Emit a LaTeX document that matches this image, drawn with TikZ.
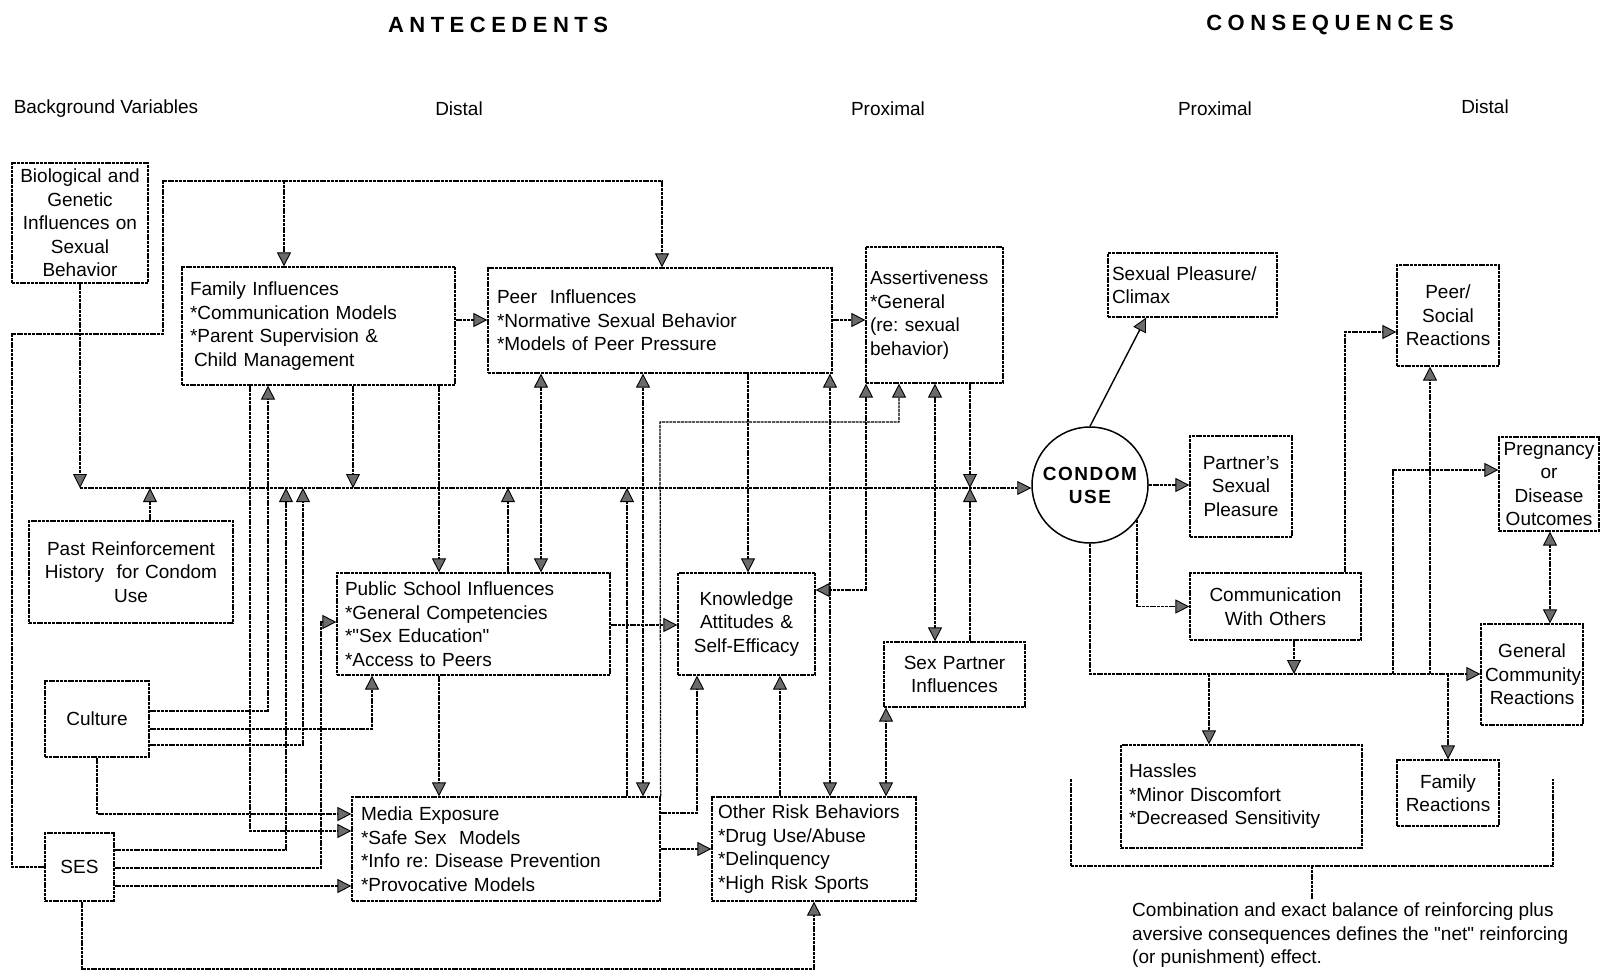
\documentclass[tikz,border=0pt]{standalone}
\usepackage{fontspec}
\setmainfont{Liberation Sans}
\newfontfamily\trackfont[LetterSpace=25]{Liberation Sans}
\newfontfamily\condomfont[LetterSpace=8]{Liberation Sans}
\usetikzlibrary{arrows.meta,calc}
\frenchspacing
\begin{document}
\begin{tikzpicture}[x=1pt,y=-1pt,
  every node/.style={font=\fontsize{19}{23.5}\selectfont},
  box/.style={draw, line width=1.25pt, dash pattern=on 3pt off 0.8pt, inner xsep=8pt, inner ysep=0pt},
  tbox/.style={box, inner xsep=4pt},
  conn/.style={draw, line width=1.25pt, dash pattern=on 3pt off 0.8pt},
  >={Triangle[length=14pt,width=14pt,fill=black!58,line width=0.9pt]},
  lbl/.style={inner sep=0pt}
]
\useasboundingbox (0,0) rectangle (1602,977);

% titles and column headers
\node[lbl,font=\trackfont\bfseries\fontsize{22}{26}\selectfont] (tA) at (498,25) {ANTECEDENTS};
\node[lbl,font=\trackfont\bfseries\fontsize{22}{26}\selectfont] (tC) at (1330,25) {CONSEQUENCES};
\node[lbl] (hBG) at (106,109) {Background Variables};
\node[lbl] (hD1) at (459,109) {Distal};
\node[lbl] (hP1) at (888,109) {Proximal};
\node[lbl] (hP2) at (1215,109) {Proximal};
\node[lbl] (hD2) at (1485,107) {Distal};

% antecedent boxes
\node[box, minimum width=136pt, minimum height=120pt, text width=120pt, align=center] (bio) at (80,223)
  {Biological and\\Genetic\\Influences on\\Sexual\\Behavior};
\node[box, minimum width=273pt, minimum height=118pt, text width=257pt, align=left] (family) at (318.5,326)
  {Family Influences\\{}*Communication Models\\{}*Parent Supervision \&\\\hspace*{4pt}Child Management};
\node[box, minimum width=344pt, minimum height=105pt, text width=326pt, align=left, inner xsep=9pt] (peer) at (660,320.5)
  {Peer~ Influences\\{}*Normative Sexual Behavior\\{}*Models of Peer Pressure};
\node[box, minimum width=137pt, minimum height=136pt, text width=129pt, align=left, inner xsep=4pt] (assert) at (934.5,315)
  {Assertiveness\\{}*General\\(re: sexual\\behavior)};
\node[box, minimum width=204pt, minimum height=102pt, text width=188pt, align=center] (past) at (131,572)
  {Past Reinforcement\\History~ for Condom\\Use};
\node[box, minimum width=273pt, minimum height=102pt, text width=257pt, align=left] (public) at (473.5,624)
  {Public School Influences\\{}*General Competencies\\{}*\textquotedbl Sex Education\textquotedbl\\{}*Access to Peers};
\node[box, minimum width=137pt, minimum height=102pt, text width=121pt, align=center] (knowledge) at (746.5,624)
  {Knowledge\\Attitudes \&\\Self-Efficacy};
\node[box, minimum width=141pt, minimum height=65pt, text width=125pt, align=center] (sexpartner) at (954.5,674.5)
  {Sex Partner\\Influences};
\node[box, minimum width=104pt, minimum height=76pt, text width=88pt, align=center] (culture) at (97,719)
  {Culture};
\node[box, minimum width=69pt, minimum height=68pt, text width=53pt, align=center] (ses) at (79.5,867)
  {SES};
\node[box, minimum width=308pt, minimum height=104pt, text width=290pt, align=left, inner xsep=9pt] (media) at (506,849)
  {Media Exposure\\{}*Safe Sex~ Models\\{}*Info re: Disease Prevention\\{}*Provocative Models};
\node[box, minimum width=204pt, minimum height=104pt, text width=192pt, align=left, inner xsep=6pt] (other) at (814,849)
  {Other Risk Behaviors\\{}*Drug Use/Abuse\\{}*Delinquency\\{}*High Risk Sports};

% central node
\node[draw, circle, line width=1.5pt, minimum size=116pt, inner sep=0pt, align=center,
      font=\condomfont\bfseries\fontsize{19}{23}\selectfont] (condom) at (1090,485) {CONDOM\\USE};

% consequence boxes
\node[tbox, minimum width=169pt, minimum height=64pt, text width=161pt, align=left] (sexpleasure) at (1192.5,285)
  {Sexual Pleasure/\\Climax};
\node[tbox, minimum width=102pt, minimum height=101pt, text width=94pt, align=center] (partners) at (1241,486.5)
  {Partner's\\Sexual\\Pleasure};
\node[tbox, minimum width=171pt, minimum height=67pt, text width=163pt, align=center] (comm) at (1275.5,606.5)
  {Communication\\With Others};
\node[tbox, minimum width=102pt, minimum height=101pt, text width=94pt, align=center] (peersocial) at (1448,315.5)
  {Peer/\\Social\\Reactions};
\node[tbox, minimum width=100pt, minimum height=94pt, text width=92pt, align=center] (pregnancy) at (1549,484)
  {Pregnancy\\or\\Disease\\Outcomes};
\node[tbox, minimum width=102pt, minimum height=101pt, text width=94pt, align=center] (gencomm) at (1532,674.5)
  {General\\Community\\Reactions};
\node[box, minimum width=241pt, minimum height=103pt, text width=225pt, align=left] (hassles) at (1241.5,796.5)
  {Hassles\\{}*Minor Discomfort\\{}*Decreased Sensitivity};
\node[tbox, minimum width=102pt, minimum height=66pt, text width=94pt, align=center] (famrx) at (1448,793)
  {Family\\Reactions};

% bus line into condom use
\coordinate (busL) at (80,488);
\draw[conn,->] (busL) -- (busL -| condom.west);
\draw[conn,->] (bio.south) -- (busL);

% SES loop to family and peer
\draw[conn,->] (ses.west) -- (12,0 |- ses.west) -- (12,334) -- (163,334) -- (163,181) -- (662,181) -- (662,0 |- peer.north);
\draw[conn,->] (284,181) -- (284,0 |- family.north);

% past reinforcement
\draw[conn,->] (150,0 |- past.north) -- (150,0 |- busL);

% family
\draw[conn,->] (353,0 |- family.south) -- (353,0 |- busL);
\draw[conn,->] (439,0 |- family.south) -- (439,0 |- public.north);
\draw[conn,->] (250,0 |- family.south) -- (250,831) -- (media.west |- 0,831);
\draw[conn,->] (family.east |- 0,320) -- (peer.west |- 0,320);

% culture
\draw[conn,->] (culture.east |- 0,711) -- (268,711) -- (268,0 |- family.south);
\draw[conn,->] (culture.east |- 0,729) -- (372,729) -- (372,0 |- public.south);
\draw[conn,->] (culture.east |- 0,745) -- (303,745) -- (303,0 |- busL);
\draw[conn,->] (culture.south) -- (97,814) -- (media.west |- 0,814);

% SES
\draw[conn,->] (ses.east |- 0,850) -- (286,850) -- (286,0 |- busL);
\draw[conn,->] (ses.east |- 0,868) -- (321,868) -- (321,622) -- (public.west |- 0,622);
\draw[conn,->] (ses.east |- 0,886) -- (media.west |- 0,886);
\draw[conn,->] (82,0 |- ses.south) -- (82,969) -- (814,969) -- (other.south);

% peer
\draw[conn,->] (peer.east |- 0,320) -- (assert.west |- 0,320);
\draw[conn,<->] (541,0 |- public.north) -- (541,0 |- peer.south);
\draw[conn,<->] (643,0 |- media.north) -- (643,0 |- peer.south);
\draw[conn,->] (748,0 |- peer.south) -- (748,0 |- knowledge.north);
\draw[conn,<->] (830,0 |- other.north) -- (830,0 |- peer.south);

% public school
\draw[conn,->] (508,0 |- public.north) -- (508,0 |- busL);
\draw[conn,->] (public.east |- 0,625) -- (knowledge.west |- 0,625);
\draw[conn,->] (439,0 |- public.south) -- (439,0 |- media.north);

% media
\draw[conn,->] (627,0 |- media.north) -- (627,0 |- busL);
\draw[conn,->] (media.north east) -- (660,422) -- (899,422) -- (899,0 |- assert.south);
\draw[conn,->] (media.east |- 0,813) -- (697,813) -- (697,0 |- knowledge.south);
\draw[conn,->] (media.east) -- (other.west);

% other risk behaviours
\draw[conn,->] (780,0 |- other.north) -- (780,0 |- knowledge.south);

% assertiveness and sex partner
\draw[conn,<->] (knowledge.east |- 0,590) -- (866,590) -- (866,0 |- assert.south);
\draw[conn,<->] (935,0 |- sexpartner.north) -- (935,0 |- assert.south);
\draw[conn,->] (970,0 |- assert.south) -- (970,0 |- busL);
\draw[conn,->] (970,0 |- sexpartner.north) -- (970,0 |- busL);
\draw[conn,<->] (886,0 |- other.north) -- (886,0 |- sexpartner.south);

% consequences
\draw[line width=1.4pt,->] (condom.north) -- (1146,0 |- sexpleasure.south);
\draw[conn,->] (condom.east) -- (condom.east -| partners.west);
\draw[conn,->] (condom.-37) -- (condom.-37 |- comm.west) -- (comm.west);
\coordinate (cline) at (1090,674);
\draw[conn,->] (condom.south) -- (cline) -- (gencomm.west |- cline);
\draw[conn,->] (1294,0 |- comm.south) -- (1294,0 |- cline);
\draw[conn,->] (1209,0 |- cline) -- (1209,0 |- hassles.north);
\draw[conn,->] (1448,0 |- cline) -- (famrx.north);
\draw[conn,->] (1430,0 |- cline) -- (1430,0 |- peersocial.south);
\draw[conn,->] (1393,0 |- cline) -- (1393,470) -- (pregnancy.west |- 0,470);
\draw[conn,->] (1345,0 |- comm.north) -- (1345,332) -- (peersocial.west |- 0,332);
\draw[conn,<->] (1550,0 |- pregnancy.south) -- (1550,0 |- gencomm.north);

% bracket and caption
\draw[conn] (1071,779) -- (1071,866) -- (1553,866) -- (1553,779);
\coordinate (stem) at (1312,899);
\draw[conn] (1312,866) -- (stem);
\node[lbl, anchor=north west, align=left] (cap) at (1132,903)
  {Combination and exact balance of reinforcing plus\\aversive consequences defines the \textquotedbl net\textquotedbl{} reinforcing\\(or punishment) effect.};
\end{tikzpicture}
\end{document}
